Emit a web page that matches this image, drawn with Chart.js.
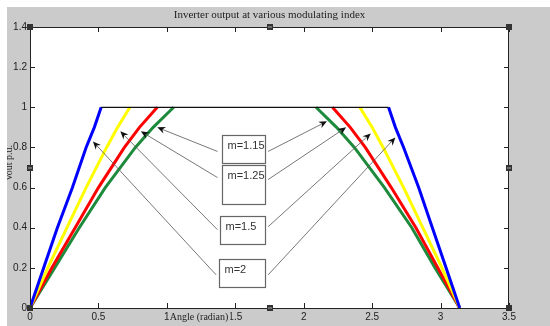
<!DOCTYPE html>
<html lang="en">
<head>
    <meta charset="UTF-8">
    <title>Inverter output at various modulating index</title>
    <script src="https://cdnjs.cloudflare.com/ajax/libs/Chart.js/4.4.1/chart.umd.min.js"></script>
    <style>
        body { margin: 0; background: #fff; }
        canvas { display: block; }
    </style>
</head>
<body>
    <canvas id="inverterChart" width="550" height="326"></canvas>

    <script>
        // Axis ticks
        const xTicks = [0, 0.5, 1, 1.5, 2, 2.5, 3, 3.5];
        const xTickLabels = ['0', '0.5', '1', '1.5', '2', '2.5', '3', '3.5'];
        const yTicks = [0, 0.2, 0.4, 0.6, 0.8, 1, 1.2, 1.4];
        const yTickLabels = ['0', '0.2', '0.4', '0.6', '0.8', '1', '1.2', '1.4'];

        // Curves (angle in radian, output in p.u.)
        // null in the middle = the flat top, which is drawn only by the black line
        const blueX = [0, 0.10, 0.20, 0.31, 0.41, 0.47, 0.52, 1.57, 2.62, 2.67, 2.73, 2.84, 2.94, 3.04, 3.14];
        const blueY = [0, 0.2, 0.4, 0.6, 0.8, 0.9, 1, null, 1, 0.9, 0.8, 0.6, 0.4, 0.2, 0];
        const yellowX = [0, 0.13, 0.27, 0.41, 0.56, 0.64, 0.73, 1.57, 2.41, 2.50, 2.58, 2.73, 2.87, 3.01, 3.14];
        const yellowY = [0, 0.2, 0.4, 0.6, 0.8, 0.9, 1, null, 1, 0.9, 0.8, 0.6, 0.4, 0.2, 0];
        const redX = [0, 0.16, 0.33, 0.50, 0.69, 0.80, 0.93, 1.57, 2.21, 2.34, 2.45, 2.64, 2.82, 2.98, 3.14];
        const redY = [0, 0.2, 0.4, 0.6, 0.8, 0.9, 1, null, 1, 0.9, 0.8, 0.6, 0.4, 0.2, 0];
        const greenX = [0, 0.18, 0.36, 0.55, 0.77, 0.90, 1.05, 1.57, 2.09, 2.24, 2.37, 2.59, 2.79, 2.96, 3.14];
        const greenY = [0, 0.2, 0.4, 0.6, 0.8, 0.9, 1, null, 1, 0.9, 0.8, 0.6, 0.4, 0.2, 0];
        const topX = [0.52, 2.62];
        const topY = [1, 1];

        // Annotation boxes and arrows (data coordinates)
        const boxLabels = ['m=1.15', 'm=1.25', 'm=1.5', 'm=2'];
        const boxLeft = [1.40, 1.40, 1.39, 1.38];
        const boxRight = [1.72, 1.72, 1.72, 1.72];
        const boxTop = [0.86, 0.71, 0.46, 0.245];
        const boxBottom = [0.72, 0.52, 0.32, 0.105];
        const tailLeftX = [1.37, 1.37, 1.37, 1.36];
        const tailLeftY = [0.78, 0.65, 0.39, 0.165];
        const tailRightX = [1.74, 1.74, 1.74, 1.74];
        const tailRightY = [0.78, 0.64, 0.405, 0.165];
        const tipLeftX = [0.93, 0.81, 0.66, 0.46];
        const tipLeftY = [0.90, 0.88, 0.88, 0.83];
        const tipRightX = [2.17, 2.31, 2.49, 2.67];
        const tipRightY = [0.93, 0.90, 0.87, 0.85];

        function toPoints(xs, ys) {
            return xs.map((x, i) => ({ x: x, y: ys[i] }));
        }

        // split a curve at its null into the rising and the falling part
        function splitAtGap(xs, ys) {
            const g = ys.indexOf(null);
            return [toPoints(xs.slice(0, g), ys.slice(0, g)), toPoints(xs.slice(g + 1), ys.slice(g + 1))];
        }

        function drawArrow(ctx, x0, y0, x1, y1) {
            const a = Math.atan2(y1 - y0, x1 - x0);
            const ux = Math.cos(a), uy = Math.sin(a);
            const nx = -uy, ny = ux;
            const L = 8, W = 3.5, notch = 5.5;
            ctx.strokeStyle = '#555';
            ctx.lineWidth = 0.8;
            ctx.beginPath();
            ctx.moveTo(x0, y0);
            ctx.lineTo(x1 - notch * ux, y1 - notch * uy);
            ctx.stroke();
            ctx.fillStyle = '#111';
            ctx.beginPath();
            ctx.moveTo(x1, y1);
            ctx.lineTo(x1 - L * ux + W * nx, y1 - L * uy + W * ny);
            ctx.lineTo(x1 - notch * ux, y1 - notch * uy);
            ctx.lineTo(x1 - L * ux - W * nx, y1 - L * uy - W * ny);
            ctx.closePath();
            ctx.fill();
        }

        // Gray figure, white axes, inward ticks, annotations
        const matlabLook = {
            id: 'matlabLook',
            beforeDraw(chart) {
                const ctx = chart.ctx;
                const a = chart.chartArea;
                ctx.save();
                ctx.fillStyle = '#fff';
                ctx.fillRect(0, 0, chart.width, chart.height);
                ctx.fillStyle = '#cbcbcb';
                ctx.fillRect(7, 7, chart.width - 7, chart.height - 7);
                ctx.fillStyle = '#fff';
                ctx.fillRect(a.left, a.top, a.right - a.left, a.bottom - a.top);
                ctx.restore();
            },
            afterDraw(chart) {
                const ctx = chart.ctx;
                const a = chart.chartArea;
                const xs = chart.scales.x, ys = chart.scales.y;
                ctx.save();

                // frame and ticks
                ctx.strokeStyle = '#222';
                ctx.lineWidth = 1;
                ctx.strokeRect(a.left + 0.5, a.top + 0.5, a.right - a.left - 1, a.bottom - a.top);
                ctx.beginPath();
                xTicks.forEach(v => {
                    const px = Math.round(xs.getPixelForValue(v)) + 0.5;
                    ctx.moveTo(px, a.bottom); ctx.lineTo(px, a.bottom - 5);
                    ctx.moveTo(px, a.top); ctx.lineTo(px, a.top + 5);
                });
                yTicks.forEach(v => {
                    const py = Math.round(ys.getPixelForValue(v)) + 0.5;
                    ctx.moveTo(a.left, py); ctx.lineTo(a.left + 5, py);
                    ctx.moveTo(a.right, py); ctx.lineTo(a.right - 5, py);
                });
                ctx.stroke();

                // arrows
                boxLabels.forEach((lab, i) => {
                    drawArrow(ctx, xs.getPixelForValue(tailLeftX[i]), ys.getPixelForValue(tailLeftY[i]),
                        xs.getPixelForValue(tipLeftX[i]), ys.getPixelForValue(tipLeftY[i]));
                    drawArrow(ctx, xs.getPixelForValue(tailRightX[i]), ys.getPixelForValue(tailRightY[i]),
                        xs.getPixelForValue(tipRightX[i]), ys.getPixelForValue(tipRightY[i]));
                });

                // text boxes
                ctx.font = '11px "Liberation Sans", Arial, sans-serif';
                ctx.textAlign = 'left';
                ctx.textBaseline = 'middle';
                boxLabels.forEach((lab, i) => {
                    const x0 = Math.round(xs.getPixelForValue(boxLeft[i])) + 0.5;
                    const x1 = Math.round(xs.getPixelForValue(boxRight[i])) + 0.5;
                    const y0 = Math.round(ys.getPixelForValue(boxTop[i])) + 0.5;
                    const y1 = Math.round(ys.getPixelForValue(boxBottom[i])) + 0.5;
                    ctx.fillStyle = '#fff';
                    ctx.fillRect(x0, y0, x1 - x0, y1 - y0);
                    ctx.strokeStyle = '#666';
                    ctx.lineWidth = 1.2;
                    ctx.strokeRect(x0, y0, x1 - x0, y1 - y0);
                    ctx.fillStyle = '#333';
                    ctx.fillText(lab, x0 + 5, y0 + 10);
                });

                // title
                ctx.fillStyle = '#222';
                ctx.font = '11px "Liberation Serif", "Times New Roman", serif';
                ctx.textAlign = 'center';
                ctx.textBaseline = 'middle';
                ctx.fillText('Inverter output at various modulating index', (a.left + a.right) / 2, 15);

                // x label, drawn over the tick labels as in the figure
                ctx.font = '10px "Liberation Serif", "Times New Roman", serif';
                const xl = 'Angle (radian)';
                const xlx = xs.getPixelForValue(1.25) - 2;
                const w = ctx.measureText(xl).width;
                ctx.fillStyle = '#cbcbcb';
                ctx.fillRect(xlx - w / 2 - 1, 311, w + 3, 12);
                ctx.fillStyle = '#222';
                ctx.fillText(xl, xlx, 317);

                // y label, cut by the figure edge
                ctx.save();
                ctx.beginPath();
                ctx.rect(7, 7, 30, chart.height);
                ctx.clip();
                ctx.translate(9, 163);
                ctx.rotate(-Math.PI / 2);
                ctx.fillText('Vout p.u.', 0, 0);
                ctx.restore();

                // selection handles
                ctx.fillStyle = '#333';
                const mx = Math.round((a.left + a.right) / 2);
                const my = Math.round((a.top + a.bottom) / 2);
                [[a.left, a.top], [mx, a.top], [a.right, a.top],
                 [a.left, my], [a.right, my],
                 [a.left, a.bottom], [mx, a.bottom], [a.right, a.bottom]].forEach(p => {
                    ctx.fillRect(p[0] - 3, p[1] - 3, 6, 6);
                });
                ctx.fillStyle = '#aaa';
                [[mx, a.top], [mx, a.bottom], [a.left, my], [a.right, my]].forEach(p => {
                    ctx.fillRect(p[0] - 2, p[1] - 0.5, 4, 1);
                });

                ctx.restore();
            }
        };

        const lineSet = (points, color, width) => ({
            data: points,
            borderColor: color,
            backgroundColor: color,
            borderWidth: width,
            showLine: true,
            pointRadius: 0,
            tension: 0
        });

        const curves = [
            [blueX, blueY, '#0000ff'],
            [yellowX, yellowY, '#ffff00'],
            [redX, redY, '#ff0000'],
            [greenX, greenY, '#1e8a3c']
        ];
        const datasets = [lineSet(toPoints(topX, topY), '#111', 1.3)];
        curves.forEach(c => {
            splitAtGap(c[0], c[1]).forEach(part => datasets.push(lineSet(part, c[2], 3)));
        });

        const ctx = document.getElementById('inverterChart').getContext('2d');
        new Chart(ctx, {
            type: 'scatter',
            data: { datasets: datasets },
            options: {
                responsive: false,
                animation: false,
                layout: { padding: { left: 0, top: 27, right: 41, bottom: 0 } },
                plugins: {
                    legend: { display: false },
                    tooltip: { enabled: false }
                },
                scales: {
                    x: {
                        type: 'linear',
                        min: 0,
                        max: 3.5,
                        afterBuildTicks: s => { s.ticks = xTicks.map(v => ({ value: v })); },
                        afterFit: s => { s.height = 18; },
                        ticks: {
                            callback: v => xTickLabels[xTicks.indexOf(v)],
                            color: '#222',
                            font: { family: '"Liberation Sans", Arial, sans-serif', size: 10 },
                            padding: 3,
                            maxRotation: 0,
                            autoSkip: false
                        },
                        grid: { display: false, drawTicks: false },
                        border: { display: false }
                    },
                    y: {
                        type: 'linear',
                        min: 0,
                        max: 1.4,
                        afterBuildTicks: s => { s.ticks = yTicks.map(v => ({ value: v })); },
                        afterFit: s => { s.width = 30; },
                        ticks: {
                            callback: v => yTickLabels[yTicks.indexOf(v)],
                            color: '#222',
                            font: { family: '"Liberation Sans", Arial, sans-serif', size: 10 },
                            padding: 3,
                            autoSkip: false
                        },
                        grid: { display: false, drawTicks: false },
                        border: { display: false }
                    }
                }
            },
            plugins: [matlabLook]
        });
    </script>
</body>
</html>
